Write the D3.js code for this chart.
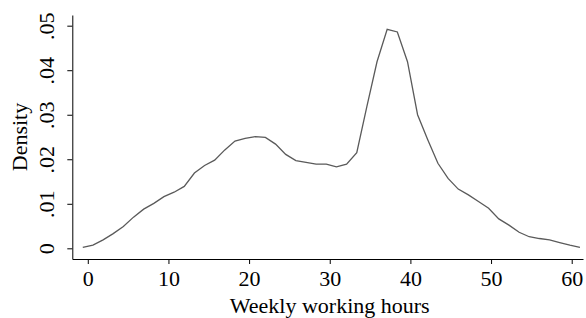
<!DOCTYPE html>
<html>
<head>
<meta charset="utf-8">
<script src="https://cdn.jsdelivr.net/npm/d3@7"></script>
<style>
  body { margin: 0; background: #fff; }
  text { font-family: "Liberation Serif", "Times New Roman", serif; }
</style>
</head>
<body>
<script>
// kernel density of weekly working hours, 50 evaluation points
var hours = [-0.62, 0.64, 1.90, 3.15, 4.41, 5.67, 6.93, 8.19, 9.44, 10.70,
    11.96, 13.22, 14.48, 15.73, 16.99, 18.25, 19.51, 20.77, 22.02, 23.28,
    24.54, 25.80, 27.06, 28.31, 29.57, 30.83, 32.09, 33.35, 34.60, 35.86,
    37.12, 38.38, 39.64, 40.89, 42.15, 43.41, 44.67, 45.93, 47.19, 48.44,
    49.70, 50.96, 52.22, 53.48, 54.73, 55.99, 57.25, 58.51, 59.77, 61.02];
var density = [.0002, .0007, .0019, .0033, .0049, .0070, .0088, .0101, .0116, .0126,
    .0139, .0169, .0186, .0198, .0221, .0241, .0247, .0251, .0249, .0234,
    .0211, .0197, .0193, .0189, .0189, .0183, .0189, .0215, .0318, .0419,
    .0492, .0486, .0419, .0300, .0244, .0191, .0157, .0133, .0120, .0105,
    .0090, .0066, .0052, .0036, .0026, .0022, .0019, .0013, .0007, .0002];

var xTicks = [0, 10, 20, 30, 40, 50, 60];
var yTicks = [0, .01, .02, .03, .04, .05];
var yTickLabels = ["0", ".01", ".02", ".03", ".04", ".05"];

var width = 586, height = 318;
var fontSize = 22;

var svg = d3.select("body").append("svg")
    .attr("width", width)
    .attr("height", height);

var x = d3.scaleLinear()
    .domain([-1.92, 61.4])
    .range([72.3, 583]);

var y = d3.scaleLinear()
    .domain([-0.0024, 0.0524])
    .range([259, 15]);

var xAxis = svg.append("g")
    .attr("transform", "translate(0,259)")
    .call(d3.axisBottom(x).tickValues(xTicks).tickSize(5).tickSizeOuter(0));

var yAxis = svg.append("g")
    .attr("transform", "translate(72.3,0)")
    .call(d3.axisLeft(y).tickValues(yTicks).tickSize(5).tickSizeOuter(0)
        .tickFormat(function(d, i) { return yTickLabels[i]; }));

svg.selectAll(".domain, .tick line").attr("stroke", "#000").attr("stroke-width", 1);
svg.selectAll(".tick text").attr("font-size", fontSize).attr("fill", "#000")
    .style("font-family", "Liberation Serif, serif");

xAxis.selectAll(".tick text")
    .attr("dy", null)
    .attr("y", 26.5);

// rotate y labels like stata does
yAxis.selectAll(".tick text")
    .attr("x", null).attr("dy", null)
    .attr("text-anchor", "middle")
    .attr("transform", "translate(-18,0) rotate(-90)");

var line = d3.line()
    .x(function(d, i) { return x(hours[i]); })
    .y(function(d) { return y(d); });

svg.append("path")
    .datum(density)
    .attr("fill", "none")
    .attr("stroke", "#5a5a5a")
    .attr("stroke-width", 1.3)
    .attr("d", line);

svg.append("text")
    .attr("x", x(30))
    .attr("y", 313)
    .attr("text-anchor", "middle")
    .attr("font-size", fontSize)
    .text("Weekly working hours");

svg.append("text")
    .attr("transform", "translate(27," + ((15 + 259) / 2) + ") rotate(-90)")
    .attr("text-anchor", "middle")
    .attr("font-size", fontSize)
    .text("Density");
</script>
</body>
</html>
